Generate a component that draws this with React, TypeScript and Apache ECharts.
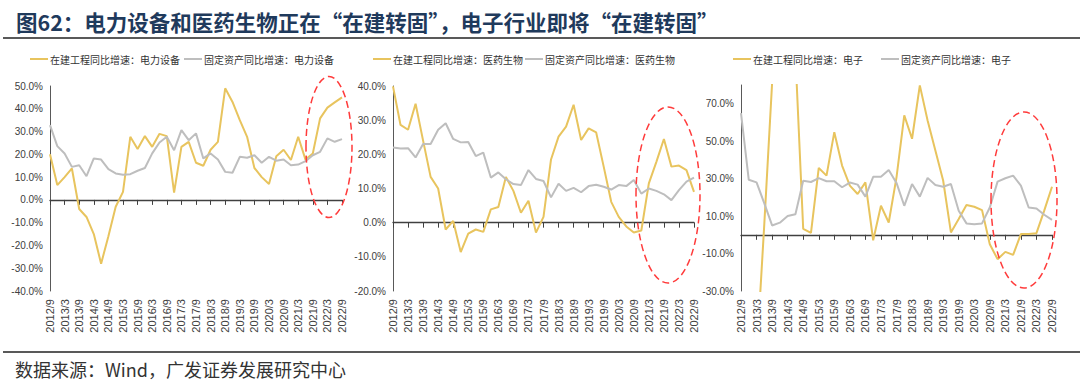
import React, { useEffect, useRef } from "react";
import * as echarts from "echarts";

const dates = [
  "2012/9", "2012/12", "2013/3", "2013/6", "2013/9", "2013/12", "2014/3", "2014/6", "2014/9", "2014/12",
  "2015/3", "2015/6", "2015/9", "2015/12", "2016/3", "2016/6", "2016/9", "2016/12", "2017/3", "2017/6",
  "2017/9", "2017/12", "2018/3", "2018/6", "2018/9", "2018/12", "2019/3", "2019/6", "2019/9", "2019/12",
  "2020/3", "2020/6", "2020/9", "2020/12", "2021/3", "2021/6", "2021/9", "2021/12", "2022/3", "2022/6",
  "2022/9",
];

// 电力设备
const powerCip = [20, 6.5, 10, 13.8, -4, -7.5, -15, -28, -16, -3, 3.5, 27.7, 22.3, 28, 23.3, 29, 28, 3.2, 23.3, 25.5, 16.3, 15, 22, 25.5, 49, 43, 35, 27.7, 14, 10, 7, 19.2, 22, 17.5, 27.7, 17.7, 20.4, 35.8, 40.5, 42.8, 45];
const powerFa = [32.8, 23.6, 20.4, 14.5, 15.2, 10.4, 18.2, 17.7, 13.5, 11.6, 11, 11.3, 12.8, 14, 20.4, 25.2, 27.7, 21.8, 30.6, 26.2, 29.2, 18.2, 20.4, 17.7, 12.3, 11.9, 18.9, 18.5, 19.6, 16.3, 18.9, 17.2, 17.7, 15.2, 15.5, 17, 19.6, 21.1, 27, 25.5, 26.7];
// 医药生物
const pharmaCip = [39.9, 28.6, 27.2, 34.8, 24, 13.4, 10, -2, 0.5, -8.6, -3.2, -2, -2.7, 3.9, 4.6, 13.4, 9.3, 2.9, 6.4, -2.9, 1.7, 18.5, 25.2, 28.1, 34.5, 24.2, 27.6, 26.4, 16.4, 6.1, 1.7, -1.1, -2.9, -2.3, 11.5, 17.8, 24.5, 16.4, 16.7, 15.4, 9];
const pharmaFa = [22, 21.7, 21.8, 19.1, 23, 23, 27.2, 29.1, 24.5, 23.5, 23.6, 19.5, 20.5, 13.2, 14.7, 12.7, 11.3, 11, 15.4, 12.8, 12.2, 7.4, 11.4, 9.3, 10.2, 8.9, 10.7, 11.1, 10.5, 9.7, 11, 10.7, 12.5, 8.5, 10, 9.3, 8.3, 6.6, 9.5, 12, 13.2];
// 电子
const elecCip = [-45, -55, -65, 6, 81, 130, 115, 96, 3.2, 1, 35.7, 31.6, 54.8, 37, 26.3, 21.8, 28, -2.9, 15.5, 6.6, 30.7, 63.8, 51.3, 79.8, 61, 45, 29, 1.3, 8.4, 15.9, 15, 13.2, -5, -13, -9.1, -10.7, 0.4, 0.4, 0.9, 12.9, 25.7];
const elecFa = [65, 29.4, 28, 16.8, 5, 6.5, 10, 11, 28.9, 28.2, 30.3, 28.6, 28.6, 25.4, 27.9, 26.8, 20.4, 31, 31, 34.6, 27.7, 15.5, 27.1, 20.4, 30.4, 26.6, 25.7, 27.1, 12.9, 6.1, 5.7, 6.1, 14.6, 28.4, 30.2, 31.6, 26.3, 14.6, 14.1, 10.7, 8];

const panels = [
  { ind: "电力设备", cip: powerCip, fa: powerFa, min: -40, max: 50, labelStep: 10, labelBase: -40 },
  { ind: "医药生物", cip: pharmaCip, fa: pharmaFa, min: -20, max: 40, labelStep: 10, labelBase: -20 },
  { ind: "电子", cip: elecCip, fa: elecFa, min: -30, max: 80, labelStep: 20, labelBase: -30 },
];

const titleText = "图62：电力设备和医药生物正在“在建转固”，电子行业即将“在建转固”";
const sourceText = "数据来源：Wind，广发证券发展研究中心";

const gridBoxes = [
  { left: 50, top: 86, width: 292, height: 205 },
  { left: 393, top: 86, width: 301, height: 205 },
  { left: 741, top: 85, width: 311, height: 206 },
];
const legendPos = [
  { left: 30, itemGap: 4 },
  { left: 373, itemGap: 2 },
  { left: 733, itemGap: 18 },
];
const ellipses = [
  { cx: 329, cy: 147, rx: 23, ry: 70.5 },
  { cx: 668, cy: 195, rx: 32, ry: 88 },
  { cx: 1024, cy: 200, rx: 33, ry: 88 },
];

const YELLOW = "#E8C45E";
const GRAY = "#BEBEBE";
const CJK = '"Noto Sans CJK SC", sans-serif';
const LAT = '"Liberation Sans", Arial, sans-serif';

export default function App() {
  const ref = useRef<HTMLDivElement>(null);
  useEffect(() => {
    document.body.style.margin = "0";
    const chart = echarts.init(ref.current!, undefined, { renderer: "svg" });
    const grid: any[] = [];
    const xAxis: any[] = [];
    const yAxis: any[] = [];
    const series: any[] = [];
    const legend: any[] = [];
    panels.forEach((p, i) => {
      grid.push({ ...gridBoxes[i], containLabel: false });
      // label axis at bottom
      xAxis.push({
        type: "category",
        gridIndex: i,
        data: dates,
        boundaryGap: false,
        position: "bottom",
        axisLine: { show: false, onZero: false },
        axisTick: { show: false },
        axisLabel: {
          interval: 1,
          rotate: 90,
          fontSize: 11,
          fontFamily: LAT,
          color: "#404040",
          margin: 8,
        },
        splitLine: { show: false },
      });
      // zero line axis with ticks
      xAxis.push({
        type: "category",
        gridIndex: i,
        data: dates,
        boundaryGap: false,
        position: "top",
        axisLine: { show: true, onZero: true, lineStyle: { color: "#404040", width: 1.3 } },
        axisTick: { show: true, interval: 1, inside: true, length: 5, lineStyle: { color: "#404040", width: 1 } },
        axisLabel: { show: false },
        splitLine: { show: false },
      });
      yAxis.push({
        type: "value",
        gridIndex: i,
        min: p.min,
        max: p.max,
        interval: 10,
        axisLine: { show: true, lineStyle: { color: "#595959", width: 1 } },
        axisTick: { show: false },
        splitLine: { show: false },
        axisLabel: {
          fontSize: 10,
          fontFamily: LAT,
          color: "#404040",
          margin: 7,
          formatter: (v: number) =>
            Math.round(v - p.labelBase) % p.labelStep === 0 && v <= p.max - (i === 2 ? 10 : 0) ? v.toFixed(1) + "%" : "",
        },
      });
      const n1 = "在建工程同比增速：" + p.ind;
      const n2 = "固定资产同比增速：" + p.ind;
      series.push({
        name: n1,
        type: "line",
        xAxisIndex: i * 2,
        yAxisIndex: i,
        data: p.cip,
        showSymbol: false,
        lineStyle: { color: YELLOW, width: 2 },
        itemStyle: { color: YELLOW },
        clip: true,
      });
      series.push({
        name: n2,
        type: "line",
        xAxisIndex: i * 2,
        yAxisIndex: i,
        data: p.fa,
        showSymbol: false,
        lineStyle: { color: GRAY, width: 2 },
        itemStyle: { color: GRAY },
        clip: true,
      });
      legend.push({
        data: [n1, n2],
        left: legendPos[i].left,
        top: 54,
        itemGap: legendPos[i].itemGap,
        itemWidth: 18,
        itemHeight: 2,
        icon: "rect",
        padding: 0,
        textStyle: { fontSize: 10, fontFamily: CJK, color: "#333", padding: [0, 0, 0, -3] },
      });
    });

    const graphic: any[] = [
      {
        type: "text",
        x: 16,
        y: 21,
        style: {
          text: titleText,
          fill: "#1f3a5c",
          fontSize: 21.5,
          fontWeight: "bold",
          fontFamily: CJK,
          verticalAlign: "middle",
        },
      },
      { type: "line", shape: { x1: 3, y1: 38, x2: 1080, y2: 38 }, style: { stroke: "#222", lineWidth: 1.5 } },
      { type: "line", shape: { x1: 3, y1: 352, x2: 1080, y2: 352 }, style: { stroke: "#222", lineWidth: 1.5 } },
      {
        type: "text",
        x: 15,
        y: 369,
        style: { text: sourceText, fill: "#333", fontSize: 18, fontFamily: CJK, verticalAlign: "middle" },
      },
      ...ellipses.map((e) => ({
        type: "ellipse",
        shape: e,
        z: 100,
        style: { fill: "none", stroke: "#FF3B3B", lineWidth: 1.5, lineDash: [7, 4] },
      })),
    ];

    chart.setOption({
      animation: false,
      backgroundColor: "#fff",
      grid,
      xAxis,
      yAxis,
      series,
      legend,
      graphic,
    });
    return () => chart.dispose();
  }, []);
  return <div ref={ref} style={{ width: 1080, height: 386 }} />;
}
